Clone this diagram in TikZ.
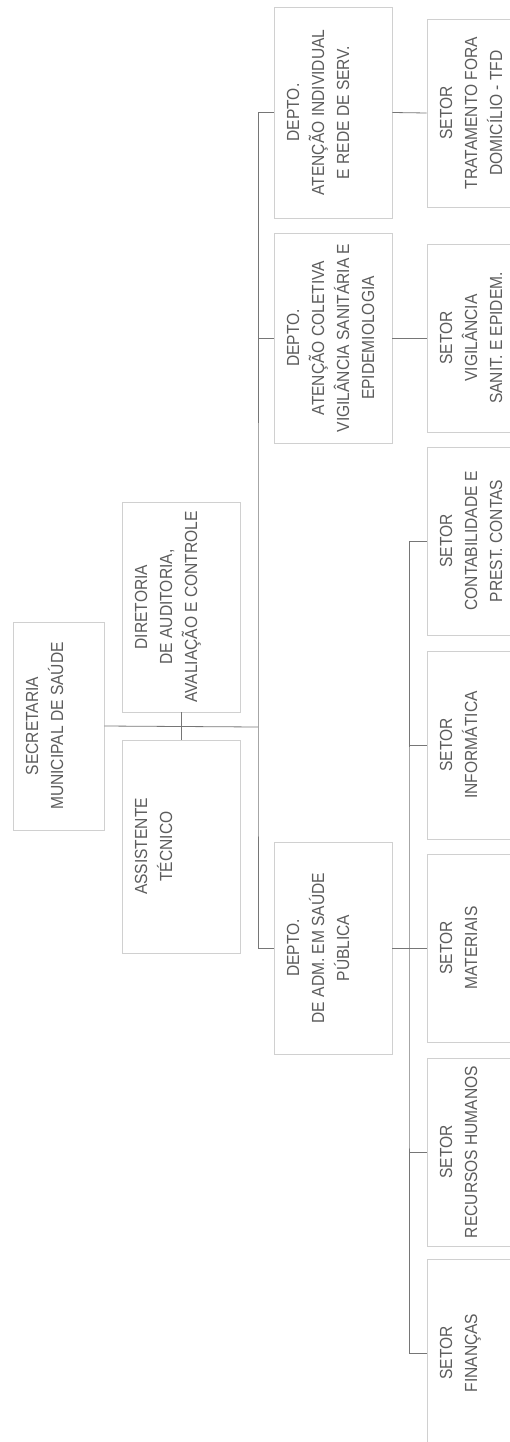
\documentclass[tikz,border=0pt]{standalone}
\usepackage{fontspec}
\setmainfont{Liberation Sans}[FakeStretch=0.89]
\definecolor{linegray}{HTML}{767676}
\definecolor{framegray}{HTML}{D0D0D0}
\definecolor{inkgray}{HTML}{5C5C5C}
% text block of a box: #1 along the text, #2 across it
\newcommand{\orgtext}[3]{\parbox[c][#2][t]{#1}{\centering\fontsize{17.5}{25}\selectfont\rule{0pt}{25pt}#3}}

\begin{document}
\begin{tikzpicture}[x=1pt,y=-1pt,
unit/.style={draw=framegray,line width=0.7pt,rotate=90,inner sep=0pt,text=inkgray},
link/.style={draw=linegray,line width=0.8pt}]
\useasboundingbox (0,0) rectangle (510,1442);
\clip (0,0) rectangle (510,1442);
% top level
\node[unit] (sec) at (58.5,726) {\orgtext{208pt}{91pt}{SECRETARIA\\MUNICIPAL DE SAÚDE}};
\node[unit] (dir) at (181,607) {\orgtext{210pt}{118pt}{DIRETORIA\\DE AUDITORIA,\\AVALIAÇÃO E CONTROLE}};
\node[unit] (ast) at (181,846.5) {\orgtext{213pt}{118pt}{ASSISTENTE\\TÉCNICO}};
% departments
\node[unit] (dai) at (333,112.5) {\orgtext{211pt}{118pt}{DEPTO.\\ATENÇÃO INDIVIDUAL\\E REDE DE SERV.}};
\node[unit] (dac) at (333,338) {\orgtext{210pt}{118pt}{DEPTO.\\ATENÇÃO COLETIVA\\VIGILÂNCIA SANITÁRIA E\\EPIDEMIOLOGIA}};
\node[unit] (dadm) at (333,948) {\orgtext{212pt}{118pt}{DEPTO.\\DE ADM. EM SAÚDE\\PÚBLICA}};
% sectors
\node[unit] (tfd) at (477,113) {\orgtext{188pt}{100pt}{SETOR\\TRATAMENTO FORA\\DOMICÍLIO - TFD}};
\node[unit] (vig) at (477,338) {\orgtext{188pt}{100pt}{SETOR\\VIGILÂNCIA\\SANIT. E EPIDEM.}};
\node[unit] (cont) at (477,541) {\orgtext{188pt}{100pt}{SETOR\\CONTABILIDADE E\\PREST. CONTAS}};
\node[unit] (inf) at (477,745) {\orgtext{188pt}{100pt}{SETOR\\INFORMÁTICA}};
\node[unit] (mat) at (477,948) {\orgtext{188pt}{100pt}{SETOR\\MATERIAIS}};
\node[unit] (rh) at (477,1152) {\orgtext{188pt}{100pt}{SETOR\\RECURSOS HUMANOS}};
\node[unit] (fin) at (477,1353) {\orgtext{188pt}{100pt}{SETOR\\FINANÇAS}};
% connectors
\coordinate (trunk) at (258,727);
\coordinate (sub) at (409,948);
\draw[link] (sec.south) -- (trunk);
\draw[link] (dir.west) -- (ast.east);
\draw[link] (dai.north) -| (trunk) |- (dadm.north);
\draw[link] (dac.north) -- (dac.north -| trunk);
\draw[link] (dai.south) -- (tfd.north);
\draw[link] (dac.south) -- (vig.north);
\draw[link] (dadm.south) -- (mat.north);
\draw[link] (cont.north) -| (sub) |- (fin.north);
\draw[link] (inf.north) -- (inf.north -| sub);
\draw[link] (rh.north) -- (rh.north -| sub);
\end{tikzpicture}
\end{document}
